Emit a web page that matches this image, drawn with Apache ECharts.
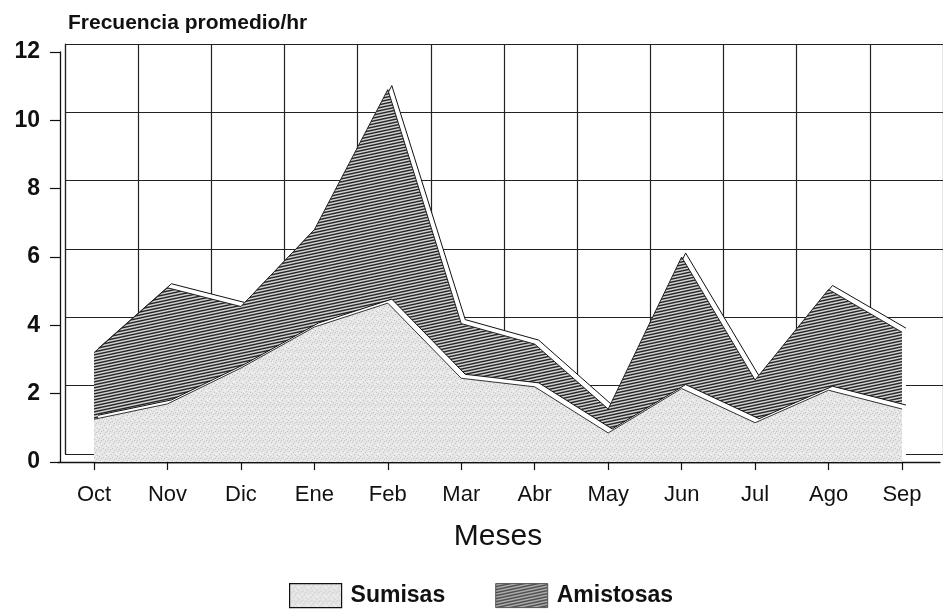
<!DOCTYPE html>
<html>
<head>
<meta charset="utf-8">
<script src="https://cdn.jsdelivr.net/npm/echarts@6/dist/echarts.min.js"></script>
<style>
html,body{margin:0;padding:0;background:#fff;}
#chart{width:943px;height:612px;}
</style>
</head>
<body>
<div id="chart"></div>
<script>
// ---- data ----
const categories = ['Oct','Nov','Dic','Ene','Feb','Mar','Abr','May','Jun','Jul','Ago','Sep'];
const sumisas   = [1.25, 1.70, 2.75, 3.95, 4.65, 2.45, 2.20, 0.85, 2.15, 1.15, 2.10, 1.55];
const amistosas = [1.95, 3.40, 1.80, 2.85, 6.25, 1.60, 1.25, 0.70, 3.85, 1.25, 2.95, 2.25];
const yMin = 0, yMax = 12, yInterval = 2;
const titleText = 'Frecuencia promedio/hr';
const xName = 'Meses';

// stacked top = sumisas + amistosas
const totals = sumisas.map((v, i) => +(v + amistosas[i]).toFixed(2));

// ---- fill patterns (style only) ----
function hatchPattern() {
  const c = document.createElement('canvas');
  c.width = 14; c.height = 3;
  const g = c.getContext('2d');
  g.fillStyle = '#d2d2d2';
  g.fillRect(0, 0, 14, 3);
  g.strokeStyle = '#262626';
  g.lineWidth = 1.4;
  for (const off of [-3, 0, 3]) {
    g.beginPath();
    g.moveTo(-1, 3 + off + 3 / 14);
    g.lineTo(15, off - 3 / 14);
    g.stroke();
  }
  return c;
}
function stipplePattern() {
  const c = document.createElement('canvas');
  c.width = 9; c.height = 9;
  const g = c.getContext('2d');
  g.fillStyle = '#e6e6e6';
  g.fillRect(0, 0, 9, 9);
  g.fillStyle = '#c2c2c2';
  const dots = [[1,1],[5,2],[3,4],[7,5],[0,6],[4,7],[8,8],[6,0],[2,8]];
  dots.forEach(d => g.fillRect(d[0], d[1], 1, 1));
  g.fillStyle = '#f6f6f6';
  [[2,2],[6,6],[0,4],[8,3]].forEach(d => g.fillRect(d[0], d[1], 1, 1));
  return c;
}
const hatch = { image: hatchPattern(), repeat: 'repeat' };
const stipple = { image: stipplePattern(), repeat: 'repeat' };

const FONT = '"Liberation Sans", Arial, Helvetica, sans-serif';
const DX = 4, DY = 4; // 3D depth offset of the ribbons

const chart = echarts.init(document.getElementById('chart'));
chart.setOption({
  backgroundColor: '#ffffff',
  animation: false,
  title: {
    text: titleText,
    left: 63, top: 8,
    textStyle: { fontFamily: FONT, fontSize: 21, fontWeight: 'bold', color: '#111' }
  },
  legend: {
    top: 578,
    left: 284,
    itemWidth: 52,
    itemHeight: 24,
    itemGap: 50,
    textStyle: { fontFamily: FONT, fontSize: 23, fontWeight: 'bold', color: '#111', padding: [0, 0, 0, 4] },
    data: [
      { name: 'Sumisas', icon: 'rect', itemStyle: { color: stipple, borderColor: '#111', borderWidth: 1.2 } },
      { name: 'Amistosas', icon: 'rect', itemStyle: { color: hatch, borderColor: '#555', borderWidth: 1 } }
    ]
  },
  grid: [
    { left: 65, right: 0, top: 44, bottom: 158 },                     // back wall
    { left: 94, right: 41, top: 52, bottom: 150 },                    // front (data)
    { left: 94 + DX, right: 41 - DX, top: 52 - DY, bottom: 150 + DY }, // depth ribbons
    { left: 58, right: 3, top: 52, bottom: 150 }                      // floor front edge
  ],
  xAxis: [
    {
      gridIndex: 0, type: 'value', min: 0, max: 12, interval: 1,
      axisLine: { show: false }, axisTick: { show: false }, axisLabel: { show: false },
      splitLine: { show: true, lineStyle: { color: '#222', width: 1.2 } }
    },
    {
      gridIndex: 1, type: 'category', data: categories, boundaryGap: false,
      axisLine: { show: true, lineStyle: { color: '#111', width: 1.3 } },
      axisTick: { show: true, length: 8, lineStyle: { color: '#111', width: 1.2 } },
      axisLabel: { margin: 22, fontFamily: FONT, fontSize: 22, color: '#111' },
      splitLine: { show: false },
      name: xName, nameLocation: 'middle', nameGap: 60,
      nameTextStyle: { fontFamily: FONT, fontSize: 30, color: '#111' }
    },
    {
      gridIndex: 2, type: 'category', data: categories, boundaryGap: false, show: false
    },
    {
      gridIndex: 3, type: 'value', min: 0, max: 1,
      axisLine: { show: true, lineStyle: { color: '#111', width: 1.3 } },
      axisTick: { show: false }, axisLabel: { show: false }, splitLine: { show: false }
    }
  ],
  yAxis: [
    {
      gridIndex: 0, type: 'value', min: yMin, max: yMax, interval: yInterval,
      axisLine: { show: true, lineStyle: { color: '#222', width: 1.2 } },
      axisTick: { show: false }, axisLabel: { show: false },
      splitLine: { show: true, lineStyle: { color: '#222', width: 1.2 } }
    },
    {
      gridIndex: 1, type: 'value', min: yMin, max: yMax, interval: yInterval, offset: 34,
      axisLine: { show: true, lineStyle: { color: '#111', width: 1.3 } },
      axisTick: { show: true, length: 10, lineStyle: { color: '#111', width: 1.2 } },
      axisLabel: { margin: 20, fontFamily: FONT, fontSize: 23, fontWeight: 'bold', color: '#111' },
      splitLine: { show: false }
    },
    {
      gridIndex: 2, type: 'value', min: yMin, max: yMax, interval: yInterval, show: false
    },
    {
      gridIndex: 3, type: 'value', min: 0, max: 1, show: false
    }
  ],
  series: [
    {
      name: 'AmistosasDepth', type: 'line', xAxisIndex: 2, yAxisIndex: 2, data: totals,
      symbol: 'none', z: 3, silent: true,
      lineStyle: { color: '#111', width: 1 },
      areaStyle: { color: '#ffffff', opacity: 1 }
    },
    {
      name: 'Amistosas', type: 'line', xAxisIndex: 1, yAxisIndex: 1, data: totals,
      symbol: 'none', z: 4,
      lineStyle: { color: '#222', width: 1 },
      itemStyle: { color: '#555' },
      areaStyle: { color: hatch, opacity: 1 }
    },
    {
      name: 'SumisasDepth', type: 'line', xAxisIndex: 2, yAxisIndex: 2, data: sumisas,
      symbol: 'none', z: 5, silent: true,
      lineStyle: { color: '#111', width: 1 },
      areaStyle: { color: '#ffffff', opacity: 1 }
    },
    {
      name: 'Sumisas', type: 'line', xAxisIndex: 1, yAxisIndex: 1, data: sumisas,
      symbol: 'none', z: 6,
      lineStyle: { color: '#333', width: 1 },
      itemStyle: { color: '#ddd' },
      areaStyle: { color: stipple, opacity: 1 }
    }
  ]
});
</script>
</body>
</html>
